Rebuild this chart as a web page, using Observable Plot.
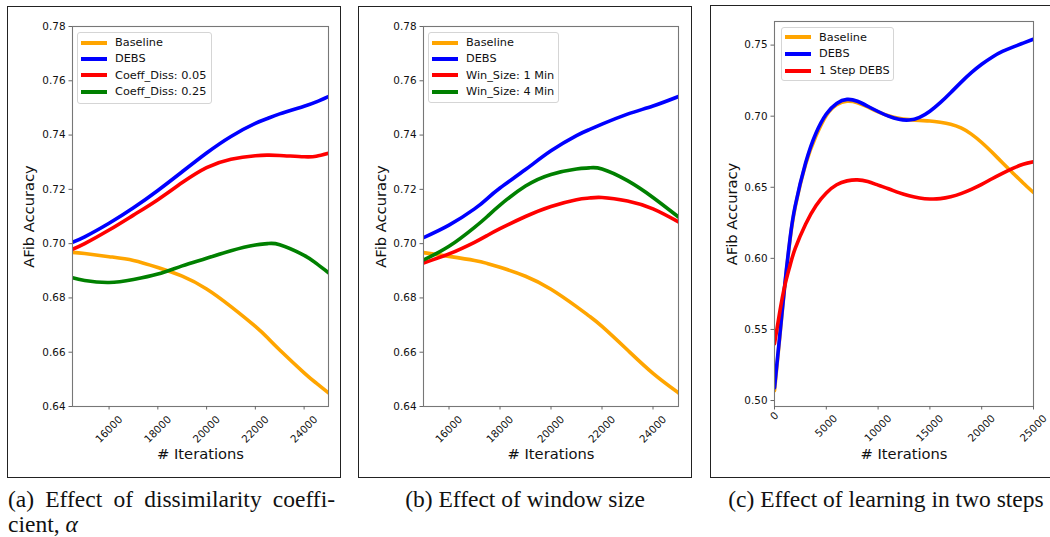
<!DOCTYPE html>
<html><head><meta charset="utf-8">
<script src="https://cdn.jsdelivr.net/npm/d3@7"></script>
<script src="https://cdn.jsdelivr.net/npm/@observablehq/plot@0.6"></script>
<style>
html,body{margin:0;padding:0;background:#fff;}
#page{position:relative;width:1050px;height:537px;overflow:hidden;background:#fff;}
.panel{position:absolute;}
.panel svg{display:block;}
.border{position:absolute;border:1.5px solid #222;box-sizing:border-box;pointer-events:none;}
.legend{position:absolute;background:rgba(255,255,255,0.8);border:1px solid #d5d5d5;border-radius:3px;box-sizing:border-box;font-family:"DejaVu Sans";font-size:11.3px;color:#111;}
.row{position:absolute;left:0;height:16px;display:flex;align-items:center;white-space:nowrap;}
.sw{width:26px;height:4px;margin-left:3px;margin-right:8px;}
.cap{position:absolute;font-family:"Liberation Serif","Times New Roman",serif;font-size:23.5px;line-height:25px;color:#111;white-space:nowrap;}
</style></head><body><div id="page"></div>
<script>
// ---------------- data ----------------
const iterA = [14500, 15000, 16000, 17000, 18000, 19000, 20000, 21000, 22000, 22500, 23000, 24000, 24500, 25000];
const baselineA = [0.6968, 0.6964, 0.6952, 0.6938, 0.6912, 0.6880, 0.6833, 0.6768, 0.6695, 0.6653, 0.6608, 0.6524, 0.6486, 0.6450];
const debsA = [0.7005, 0.7025, 0.7075, 0.7132, 0.7196, 0.7265, 0.7334, 0.7395, 0.7443, 0.7461, 0.7478, 0.7506, 0.7522, 0.7542];
const coeff005A = [0.6979, 0.7000, 0.7050, 0.7105, 0.7162, 0.7225, 0.7280, 0.7311, 0.7324, 0.7326, 0.7325, 0.7320, 0.7322, 0.7333];
const coeff025A = [0.6874, 0.6864, 0.6857, 0.6868, 0.6888, 0.6918, 0.6946, 0.6974, 0.6995, 0.7000, 0.6996, 0.6957, 0.6927, 0.6893];
const labelsA = ["Baseline", "DEBS", "Coeff_Diss: 0.05", "Coeff_Diss: 0.25"];

const iterB = [15000, 16000, 17000, 17500, 18000, 19000, 20000, 21000, 21500, 22000, 23000, 24000, 25000];
const baselineB = [0.6967, 0.6953, 0.6938, 0.6927, 0.6913, 0.6880, 0.6832, 0.6768, 0.6733, 0.6695, 0.6608, 0.6522, 0.6450];
const debsB = [0.7022, 0.7068, 0.7128, 0.7166, 0.7205, 0.7273, 0.7342, 0.7398, 0.7420, 0.7440, 0.7477, 0.7507, 0.7542];
const win1B = [0.6929, 0.6962, 0.7005, 0.7030, 0.7055, 0.7100, 0.7137, 0.7162, 0.7168, 0.7170, 0.7157, 0.7128, 0.7080];
const win4B = [0.6940, 0.6990, 0.7060, 0.7100, 0.7142, 0.7212, 0.7255, 0.7275, 0.7279, 0.7275, 0.7232, 0.7170, 0.7098];
const labelsB = ["Baseline", "DEBS", "Win_Size: 1 Min", "Win_Size: 4 Min"];

const iterC = [0, 500, 1000, 1500, 2000, 3000, 4000, 5000, 6000, 7000, 8000, 9000, 10000, 11000, 12000, 13000, 14000, 15000, 16000, 17000, 18000, 19000, 20000, 21000, 22000, 23000, 24000, 25000];
const baselineC = [0.507, 0.544, 0.581, 0.613, 0.636, 0.666, 0.686, 0.7005, 0.7080, 0.7105, 0.7095, 0.7065, 0.7030, 0.7003, 0.6985, 0.6976, 0.6970, 0.6966, 0.6957, 0.6943, 0.6917, 0.6874, 0.6815, 0.6746, 0.6673, 0.6601, 0.6530, 0.6463];
const debsC = [0.509, 0.545, 0.582, 0.614, 0.637, 0.667, 0.688, 0.7015, 0.7090, 0.7118, 0.7105, 0.7070, 0.7033, 0.7000, 0.6978, 0.6973, 0.6992, 0.7035, 0.7095, 0.7165, 0.7238, 0.7306, 0.7365, 0.7415, 0.7455, 0.7486, 0.7514, 0.7542];
const oneStepC = [0.540, 0.562, 0.581, 0.595, 0.607, 0.624, 0.637, 0.646, 0.6518, 0.6545, 0.6552, 0.6540, 0.6515, 0.6490, 0.6462, 0.6440, 0.6425, 0.6418, 0.6420, 0.6433, 0.6455, 0.6485, 0.6520, 0.6560, 0.6598, 0.6633, 0.6662, 0.6679];
const labelsC = ["Baseline", "DEBS", "1 Step DEBS"];

const xTicksAB = [16000, 18000, 20000, 22000, 24000];
const xTicksC = [0, 5000, 10000, 15000, 20000, 25000];
const yTicksAB = [0.64, 0.66, 0.68, 0.70, 0.72, 0.74, 0.76, 0.78];
const yTicksC = [0.50, 0.55, 0.60, 0.65, 0.70, 0.75];

const yLabel = "AFib Accuracy";
const xLabel = "# Iterations";
const captions = ["(a) Effect of dissimilarity coeffi-", "cient, ", "α", "(b) Effect of window size", "(c) Effect of learning in two steps"];

// ---------------- styles ----------------
const palette = ["#FFA500", "#0000FF", "#FF0000", "#008000"];
const page = document.getElementById("page");
const fmtY = d3.format(".2f");
const fmtX = d3.format("d");

function makePanel(cfg) {
  const marks = [];
  cfg.series.forEach((vals, si) => {
    const rows = cfg.iters.map((it, i) => ({it, v: vals[i]}));
    marks.push(Plot.line(rows, {x: "it", y: "v", stroke: palette[si], strokeWidth: 3.6, curve: "natural", clip: true}));
  });
  marks.push(Plot.frame({stroke: "#777", strokeWidth: 1.1}));
  marks.push(Plot.axisY(cfg.yTicks, {tickSize: 3.5, tickPadding: 3.5, tickFormat: fmtY, label: null, stroke: "#666", fill: "#111", fontSize: 10.4}));
  cfg.xGroups.forEach(g => {
    marks.push(Plot.axisX(g.ticks, {tickSize: 3.5, tickPadding: g.off - 3.5, tickRotate: -45, tickFormat: fmtX, textAnchor: "middle", lineAnchor: "middle", label: null, stroke: "#666", fill: "#111", fontSize: 10.4}));
  });
  marks.push(Plot.text([yLabel], {text: d => d, frameAnchor: "left", dx: -cfg.yLabOff, rotate: -90, fontSize: 14.7, textAnchor: "middle", lineAnchor: "middle", fill: "#111"}));
  marks.push(Plot.text([xLabel], {text: d => d, frameAnchor: "bottom", dy: 48, fontSize: 14.7, textAnchor: "middle", lineAnchor: "middle", fill: "#111"}));

  const chart = Plot.plot({
    width: cfg.w, height: cfg.h,
    marginLeft: cfg.ml, marginRight: cfg.mr, marginTop: cfg.mt, marginBottom: cfg.mb,
    x: {domain: cfg.xDomain},
    y: {domain: cfg.yDomain},
    style: {fontFamily: "DejaVu Sans", fontSize: "10.4px", color: "#111", background: "transparent", overflow: "visible"},
    marks
  });
  const wrap = document.createElement("div");
  wrap.className = "panel";
  wrap.style.left = cfg.left + "px";
  wrap.style.top = cfg.top + "px";
  wrap.appendChild(chart);
  page.appendChild(wrap);

  const b = document.createElement("div");
  b.className = "border";
  Object.assign(b.style, {left: cfg.box[0] + "px", top: cfg.box[1] + "px", width: cfg.box[2] + "px", height: cfg.box[3] + "px"});
  page.appendChild(b);

  const lg = document.createElement("div");
  lg.className = "legend";
  Object.assign(lg.style, {left: cfg.leg[0] + "px", top: cfg.leg[1] + "px", width: cfg.leg[2] + "px", height: cfg.leg[3] + "px"});
  cfg.labels.forEach((lab, i) => {
    const r = document.createElement("div");
    r.className = "row";
    r.style.top = (cfg.legRow0 + cfg.legStep * i - 8) + "px";
    const sw = document.createElement("div");
    sw.className = "sw";
    sw.style.background = palette[i];
    const t = document.createElement("span");
    t.textContent = lab;
    r.appendChild(sw); r.appendChild(t);
    lg.appendChild(r);
  });
  page.appendChild(lg);
}

makePanel({
  left: 8, top: 7, w: 332, h: 470, ml: 64, mr: 12, mt: 19, mb: 71,
  xDomain: [14500, 25000], yDomain: [0.64, 0.78],
  iters: iterA, series: [baselineA, debsA, coeff005A, coeff025A], labels: labelsA,
  yTicks: yTicksAB, xGroups: [{ticks: xTicksAB, off: 23}], yLabOff: 43.5,
  box: [7, 6, 334, 472], leg: [77, 32, 135, 72], legRow0: 9.5, legStep: 16.4
});
makePanel({
  left: 359, top: 7, w: 332, h: 470, ml: 64, mr: 13, mt: 19, mb: 71,
  xDomain: [15000, 25000], yDomain: [0.64, 0.78],
  iters: iterB, series: [baselineB, debsB, win1B, win4B], labels: labelsB,
  yTicks: yTicksAB, xGroups: [{ticks: xTicksAB, off: 23}], yLabOff: 42,
  box: [358, 6, 334, 472], leg: [428, 32, 131, 71], legRow0: 9.5, legStep: 16.4
});
makePanel({
  left: 711, top: 6, w: 339, h: 471, ml: 63, mr: 17, mt: 15, mb: 71,
  xDomain: [0, 25000], yDomain: [0.4958, 0.7666],
  iters: iterC, series: [baselineC, debsC, oneStepC], labels: labelsC,
  yTicks: yTicksC,
  xGroups: [{ticks: xTicksC.slice(0, 1), off: 9.5}, {ticks: xTicksC.slice(1, 2), off: 19.5}, {ticks: xTicksC.slice(2), off: 22}],
  yLabOff: 42,
  box: [710, 5, 360, 473], leg: [781, 27, 113, 54], legRow0: 9, legStep: 16.8
});

// captions
const capA1 = document.createElement("div");
capA1.className = "cap";
Object.assign(capA1.style, {left: "8px", top: "487px", width: "327px", textAlign: "justify", textAlignLast: "justify"});
capA1.textContent = captions[0];
page.appendChild(capA1);
const capA2 = document.createElement("div");
capA2.className = "cap";
Object.assign(capA2.style, {left: "8px", top: "512px"});
capA2.textContent = captions[1];
const al = document.createElement("i");
al.textContent = captions[2];
capA2.appendChild(al);
page.appendChild(capA2);
const capB = document.createElement("div");
capB.className = "cap";
Object.assign(capB.style, {left: "359px", top: "487px", width: "332px", textAlign: "center"});
capB.textContent = captions[3];
page.appendChild(capB);
const capC = document.createElement("div");
capC.className = "cap";
Object.assign(capC.style, {left: "711px", top: "487px", width: "350px", textAlign: "center"});
capC.textContent = captions[4];
page.appendChild(capC);
</script></body></html>
